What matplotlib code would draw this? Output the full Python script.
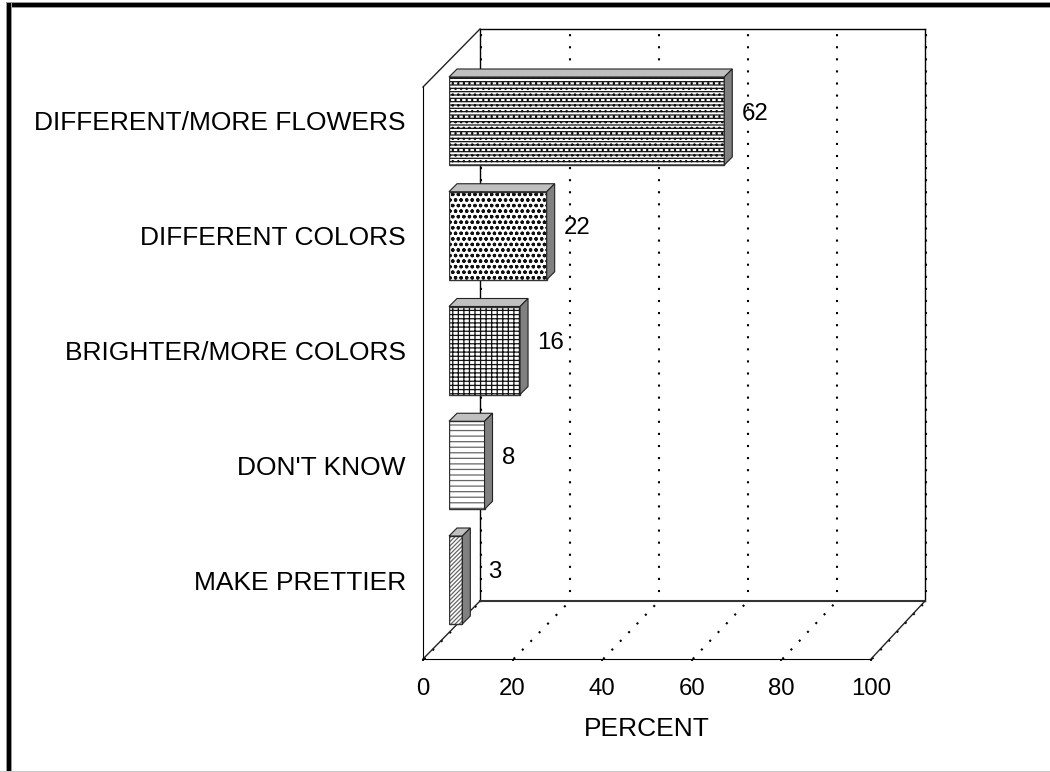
import matplotlib
matplotlib.use("Agg")
import matplotlib.pyplot as plt
from matplotlib.patches import Polygon, Rectangle
from matplotlib.transforms import Affine2D, IdentityTransform

plt.rcParams["font.family"] = ["Liberation Sans", "DejaVu Sans"]
plt.rcParams["hatch.linewidth"] = 0.9

categories = ["DIFFERENT/MORE FLOWERS", "DIFFERENT COLORS", "BRIGHTER/MORE COLORS", "DON'T KNOW", "MAKE PRETTIER"]
percent = [62, 22, 16, 8, 3]
x_ticks = [0, 20, 40, 60, 80, 100]
hatches = ["-----...", "ooo", "----|||", "---", "////////"]
hatch_colors = ["#111111", "#111111", "#111111", "#666666", "#666666"]

W, H = 1050, 772
FS_CAT = 19
FS_NUM = 17.3
DEPTH = 8  # depth of the 3d bars in pixels


def axes_px(fig, left, top, right, bottom, z):
    # axes placed by pixel box, y counted from the top of the image
    ax = fig.add_axes([left / W, 1 - bottom / H, (right - left) / W, (bottom - top) / H])
    ax.set_zorder(z)
    ax.patch.set_visible(False)
    return ax


fig = plt.figure(figsize=(W / 100, H / 100), dpi=100, facecolor="white")

# outer frame
ident = IdentityTransform()
for x0, y0, w, h, c in [(6, H - 8, W, 6, "#999999"), (7, H - 7, W, 4, "black"),
                        (6, 0, 6, H - 2, "#999999"), (7, 0, 4, H - 3, "black"),
                        (0, 0, W, 1, "#c8c8c8")]:
    fig.add_artist(Rectangle((x0, y0), w, h, transform=ident, color=c, lw=0))

# back wall with the dotted grid
back = axes_px(fig, 480, 29, 925, 601, 1)
back.set_xlim(0, 100)
back.set_ylim(0, 1)
back.set_xticks(x_ticks)
back.set_yticks([])
back.tick_params(length=0, labelbottom=False)
back.xaxis.grid(True, color="black", lw=1.5, linestyle=(1.5, (1, 4.8)), clip_on=False)
for gl in back.xaxis.get_gridlines():
    gl.set_transform(gl.get_transform() + Affine2D().translate(1.2, 0))
for s in back.spines.values():
    s.set_linewidth(1.0)
back.spines["bottom"].set_linewidth(1.5)
back.spines["bottom"].set_color("#333333")

# front plane, carries the axis labels
front = axes_px(fig, 423, 87, 871, 659, 2)
front.set_xlim(0, 100)
front.set_ylim(0, 1)
front.set_xticks(x_ticks)
front.set_xticklabels(x_ticks, fontsize=FS_NUM)
front.set_yticks([])
front.tick_params(axis="x", length=1.5, width=1.3, pad=12.5)
front.set_xlabel("PERCENT", fontsize=FS_CAT, labelpad=12)
for side in ["top", "right"]:
    front.spines[side].set_visible(False)

# floor and wall edges joining the two planes
fig.canvas.draw()
for t in x_ticks:
    p0 = front.transData.transform((t, 0))
    p1 = back.transData.transform((t, 0))
    front.add_line(plt.Line2D([p0[0] + 1, p1[0] + 1], [p0[1], p1[1]], transform=ident, color="black",
                              lw=1.5, linestyle=(0, (1, 4.8)), clip_on=False))
for xf, xb, yv in [(0, 0, 0), (100, 100, 0), (0, 0, 1)]:
    p0 = front.transData.transform((xf, yv))
    p1 = back.transData.transform((xb, yv))
    front.add_line(plt.Line2D([p0[0], p1[0]], [p0[1], p1[1]], transform=ident, color="#222222",
                              lw=1.0, clip_on=False))

# bars sit in their own plane between front and back
bars = axes_px(fig, 449, 60, 893, 659, 3)
bars.set_xlim(0, 100)
bars.set_ylim((659 - 121) / 114.75, (60 - 121) / 114.75)
ypos = list(range(len(categories)))
bar_h = 88 / 114.75
bars.set_xticks([])
bars.set_yticks(ypos)
bars.set_yticklabels(categories, fontsize=FS_CAT)
bars.tick_params(axis="y", length=0, pad=31)
for s in bars.spines.values():
    s.set_visible(False)

for y, v, hatch, hc in zip(ypos, percent, hatches, hatch_colors):
    bars.barh(y, v, height=bar_h, color="white", edgecolor=hc, hatch=hatch, lw=0)
    bars.barh(y, v, height=bar_h, fill=False, edgecolor="#333333", lw=1.0)
    (xl, yt) = bars.transData.transform((0, y - bar_h / 2))
    (xr, yb) = bars.transData.transform((v, y + bar_h / 2))
    bars.add_patch(Polygon([(xl, yt), (xr, yt), (xr + DEPTH, yt + DEPTH), (xl + DEPTH, yt + DEPTH)],
                           transform=ident, fc="#c0c0c0", ec="#222222", lw=0.8, clip_on=False))
    bars.add_patch(Polygon([(xr, yt), (xr + DEPTH, yt + DEPTH), (xr + DEPTH, yb + DEPTH), (xr, yb)],
                           transform=ident, fc="#808080", ec="#222222", lw=0.8, clip_on=False))
    # the 3 label is pushed clear of the wall by the chart, so keep a minimum x
    lx = max(xr + 17.5, 488)
    bars.text(lx, (yt + yb) / 2 + 7.5, str(v), transform=ident, fontsize=FS_NUM, ha="left", va="center", clip_on=False)

fig.savefig("out.png", dpi=100)
